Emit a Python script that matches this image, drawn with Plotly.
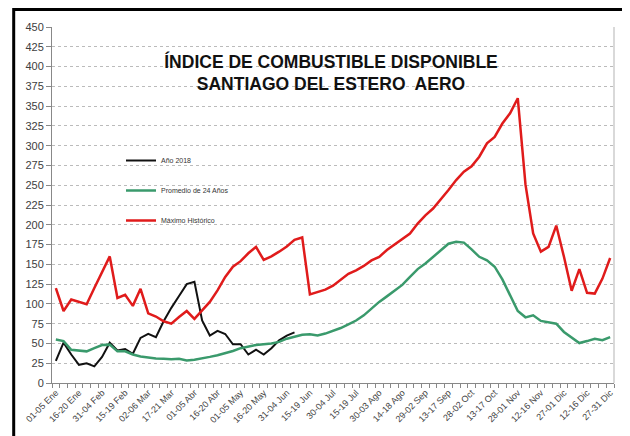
import plotly.graph_objects as go

# ---- data (pentads, 73 per year) ----
tick_labels = ["01-05 Ene", "16-20 Ene", "31-04 Feb", "15-19 Feb", "02-06 Mar", "17-21 Mar",
               "01-05 Abr", "16-20 Abr", "01-05 May", "16-20 May", "31-04 Jun", "15-19 Jun",
               "30-04 Jul", "15-19 Jul", "30-03 Ago", "14-18 Ago", "29-02 Sep", "13-17 Sep",
               "28-02 Oct", "13-17 Oct", "28-01 Nov", "12-16 Nov", "27-01 Dic", "12-16 Dic",
               "27-31 Dic"]

anio_2018 = [28, 51, 36, 23, 25, 21, 33, 51, 41, 43, 37, 57, 62, 58, 78, 95,
             110, 125, 128, 79, 60, 66, 62, 49, 49, 36, 42, 36, 44, 54, 60, 64]

promedio_24 = [55, 53, 42, 41, 40, 44, 48, 48.5, 40, 40, 36, 33.5, 32, 31, 30.5, 30,
               30.5, 28.5, 29.5, 31, 33, 35, 37.5, 40.5, 44, 46, 48, 49, 50, 52, 56, 58.5,
               61, 61.5, 60, 62.5, 65.5, 69.5, 74, 79, 85.5, 94, 102.5, 109.5, 116.5, 124,
               134, 144, 151, 159.5, 168, 176, 178.5, 177.5, 169, 159.5, 155, 147, 131,
               111, 91, 83, 85.5, 78.5, 76.5, 75, 64.5, 57.5, 50.5, 53, 56, 54, 58]

maximo_hist = [120, 91, 105.5, 102.5, 99.5, 120, 140, 160, 107.5, 111.5, 97.5, 119, 88, 84,
               78, 75, 83.5, 91, 81, 91.5, 102.5, 117, 134, 147, 154, 164, 172, 155.5, 160,
               166, 172.5, 181, 184, 112, 115, 118, 123, 130, 138, 142.5, 148, 155, 159.5,
               168, 175, 181, 189, 201.5, 212, 220.5, 232, 244, 256.5, 267, 274, 286, 303,
               311, 328, 341, 360, 251, 189, 166, 172, 199, 159.5, 116.5, 144, 114, 113,
               132, 158]

n_pent = len(maximo_hist)
x_all = list(range(n_pent))

fig = go.Figure()
fig.add_trace(go.Scatter(x=x_all[:len(anio_2018)], y=anio_2018, mode="lines",
                         name="Año 2018", legendgroup="a",
                         line=dict(color="#111111", width=2)))
fig.add_trace(go.Scatter(x=x_all, y=promedio_24, mode="lines",
                         name="Promedio de 24 Años", legendgroup="b",
                         line=dict(color="#3a9a6c", width=2.5)))
fig.add_trace(go.Scatter(x=x_all, y=maximo_hist, mode="lines",
                         name="Máximo Histórico", legendgroup="c",
                         line=dict(color="#e01b1b", width=2.5)))

# the page body adds an 8px offset; the figure is sized to fill the rest of the window
OFF = 8
W, H = 630 - OFF, 436 - OFF
L, R, T, B = 52 - OFF, 630 - 614, 27 - OFF, H - (383 - OFF)
pw, ph = W - L - R, H - T - B

def px_x(p):
    return (p - OFF - L) / pw

def px_y(p):
    return (H - B - (p - OFF)) / ph

fig.update_layout(
    width=W, height=H,
    margin=dict(l=L, r=R, t=T, b=B, autoexpand=False),
    paper_bgcolor="white", plot_bgcolor="white",
    font=dict(family="Liberation Sans, Arial, sans-serif", color="#333333"),
    title=dict(text="<b>ÍNDICE DE COMBUSTIBLE DISPONIBLE<br>SANTIAGO DEL ESTERO  AERO</b>",
               x=(331 - OFF) / W, xanchor="center", y=1 - (67.5 - OFF) / H, yanchor="middle",
               yref="container", xref="container",
               font=dict(size=17.5, color="#111111", family="Liberation Sans, Arial, sans-serif")),
    showlegend=True,
    legend=dict(x=px_x(121), y=px_y(146), xanchor="left", yanchor="top",
                bgcolor="rgba(0,0,0,0)", font=dict(size=7, color="#333333"),
                tracegroupgap=11, itemwidth=30),
    xaxis=dict(range=[-0.5, n_pent - 0.5], tickmode="array",
               tickvals=x_all[::3], ticktext=tick_labels, tickangle=-45,
               tickfont=dict(size=9, color="#444444"), automargin=False,
               showgrid=False, zeroline=False, showline=True, linecolor="#888888",
               linewidth=1, ticks="",
               minor=dict(tickmode="array", tickvals=[i - 0.5 for i in range(n_pent + 1)],
                          ticks="outside", ticklen=4, tickcolor="#888888", showgrid=False)),
    yaxis=dict(range=[0, 450], dtick=25, tick0=0, automargin=False,
               tickfont=dict(size=11, color="#404040"),
               showgrid=True, gridcolor="#bbbbbb", griddash="dot", gridwidth=1,
               zeroline=False, showline=True, linecolor="#888888", linewidth=1,
               ticks="outside", ticklen=5, tickcolor="#888888"),
    shapes=[
        dict(type="line", xref="paper", yref="paper", x0=1, x1=1, y0=0, y1=1,
             line=dict(color="#cccccc", width=1.5)),
        dict(type="rect", xref="paper", yref="paper",
             x0=px_x(13.7), x1=px_x(623.5), y0=px_y(460), y1=px_y(9.5),
             line=dict(color="black", width=3), fillcolor="rgba(0,0,0,0)", layer="above"),
    ],
)

fig.write_html("out.html")
